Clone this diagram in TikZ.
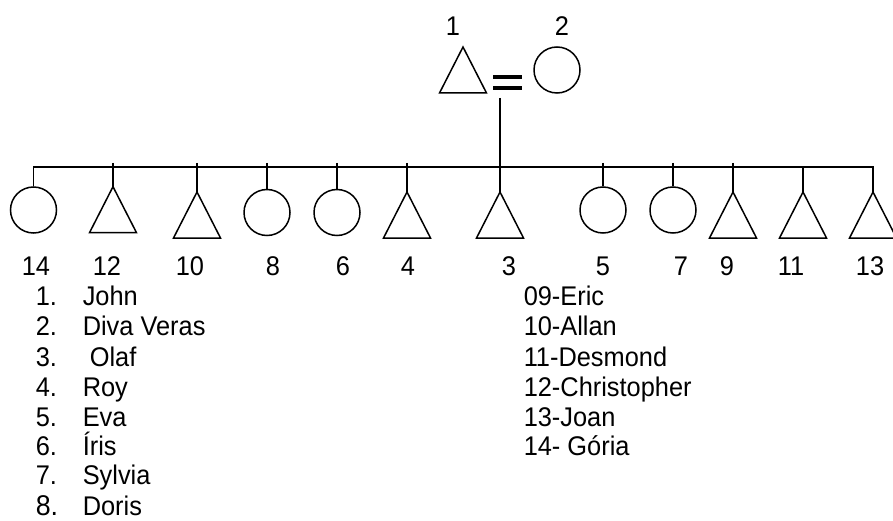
\documentclass[tikz,border=0pt]{standalone}
\usepackage{fontspec}
\setmainfont{Liberation Sans}[FakeStretch=0.94]
\begin{document}
\begin{tikzpicture}[x=1pt,y=-1pt,
  line width=1.5pt,
  txt/.style={font=\fontsize{27}{30}\selectfont, inner sep=0pt},
  lbl/.style={txt, anchor=base},
  item/.style={txt, anchor=base west},
  female/.style={circle, draw, minimum size=46pt, inner sep=0pt},
  male/.pic={\coordinate (-top) at (0,0);
             \draw (0,0) -- (-23.5,46) -- (23.5,46) -- cycle;},
  eqbar/.style={line width=3.5pt}]
\useasboundingbox (0,0) rectangle (893,521);

% parents
\pic (m1) at (463,47) {male};
\node[female] (f2) at (557,70) {};
\node[lbl] (n1) at (453,36) {1};
\node[lbl] (n2) at (562,36) {2};
\coordinate (eqa1) at (493,77); \coordinate (eqa2) at (522,77);
\coordinate (eqb1) at (493,88); \coordinate (eqb2) at (522,88);
\draw[eqbar] (eqa1) -- (eqa2);
\draw[eqbar] (eqb1) -- (eqb2);

% children
\node[female] (f14) at (33.5,210) {};
\pic (m12) at (113,186.7) {male};
\pic (m10) at (197,192) {male};
\node[female] (f8) at (267,212.5) {};
\node[female] (f6) at (337,212.5) {};
\pic (m4) at (407,192) {male};
\pic (m3) at (500,192) {male};
\node[female] (f5) at (603,210) {};
\node[female] (f7) at (673,210) {};
\pic (m9) at (733,192) {male};
\pic (m11) at (803,192) {male};
\pic (m13) at (873,192) {male};

% sibling line and descent
\coordinate (drop) at (500,98);
\coordinate (sibL) at (33.5,167);
\coordinate (sibR) at (873,167);
\draw (f14.north) -- (sibL) -- (sibR) -- (m13-top);
\draw (drop) -- (m3-top);
\coordinate (t12) at (113,163);
\coordinate (t10) at (197,163);
\coordinate (t8) at (267,163);
\coordinate (t6) at (337,163);
\coordinate (t4) at (407,163);
\coordinate (t5) at (603,163);
\coordinate (t7) at (673,163);
\coordinate (t9) at (733,163);
\coordinate (t11) at (803,167);
\draw (t12) -- (m12-top);
\draw (t10) -- (m10-top);
\draw (t8) -- (f8.north);
\draw (t6) -- (f6.north);
\draw (t4) -- (m4-top);
\draw (t5) -- (f5.north);
\draw (t7) -- (f7.north);
\draw (t9) -- (m9-top);
\draw (t11) -- (m11-top);

% child numbers
\node[lbl] (n14) at (36,275) {14};
\node[lbl] (n12) at (107,275) {12};
\node[lbl] (n10) at (190,275) {10};
\node[lbl] (n8) at (273,275) {8};
\node[lbl] (n6) at (343,275) {6};
\node[lbl] (n4) at (408,275) {4};
\node[lbl] (n3) at (509,275) {3};
\node[lbl] (n5) at (603,275) {5};
\node[lbl] (n7) at (681,275) {7};
\node[lbl] (n9) at (727,275) {9};
\node[lbl] (n11) at (791,275) {11};
\node[lbl] (n13) at (870,275) {13};

% key, first column
\node[item] (k1) at (35,305) {1.};   \node[item] (v1) at (82,305) {John};
\node[item] (k2) at (35,335) {2.};   \node[item] (v2) at (82,335) {Diva Veras};
\node[item] (k3) at (35,366) {3.};   \node[item] (v3) at (82,366) {\ Olaf};
\node[item] (k4) at (35,396) {4.};   \node[item] (v4) at (82,396) {Roy};
\node[item] (k5) at (35,426) {5.};   \node[item] (v5) at (82,426) {Eva};
\node[item] (k6) at (35,455) {6.};   \node[item] (v6) at (82,455) {Íris};
\node[item] (k7) at (35,484) {7.};   \node[item] (v7) at (82,484) {Sylvia};
\node[item, font=\fontsize{28.5}{30}\selectfont] (k8) at (35,515) {8.};
\node[item] (v8) at (82,515) {Doris};

% key, second column
\node[item] (w9) at (523,305) {09-Eric};
\node[item] (w10) at (523,335) {10-Allan};
\node[item] (w11) at (523,366) {11-Desmond};
\node[item] (w12) at (523,396) {12-Christopher};
\node[item] (w13) at (523,426) {13-Joan};
\node[item] (w14) at (523,455) {14- Gória};
\end{tikzpicture}
\end{document}
